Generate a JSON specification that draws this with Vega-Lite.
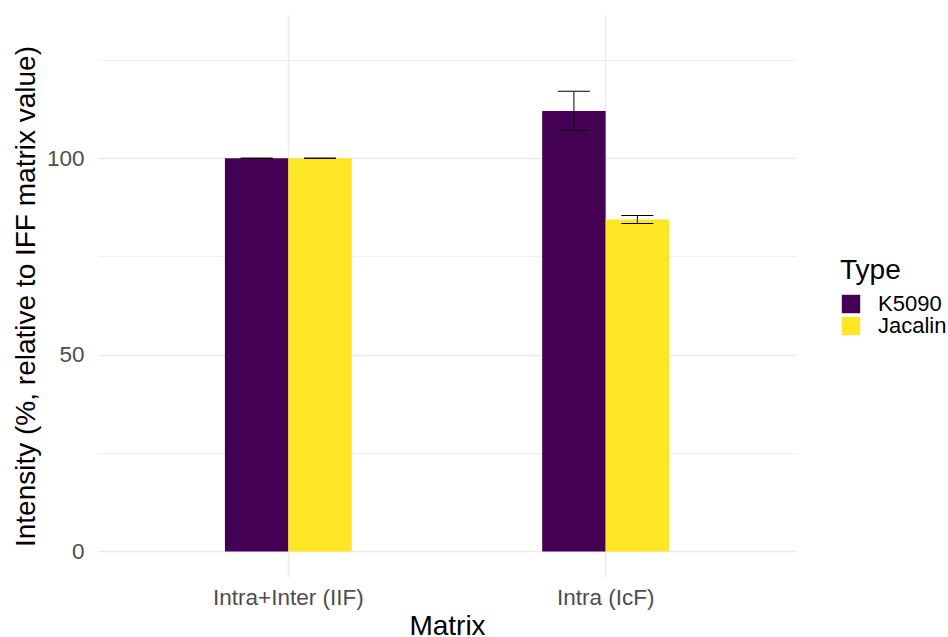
{
  "$schema": "https://vega.github.io/schema/vega-lite/v6.json",
  "width": 698,
  "height": 562,
  "autosize": {"type": "none"},
  "padding": {"left": 98, "top": 15, "right": 152, "bottom": 60},
  "background": "white",
  "config": {
    "font": "Liberation Sans",
    "view": {"stroke": null}
  },
  "data": {
    "values": [
      {"Matrix": "Intra+Inter (IIF)", "Type": "K5090", "value": 100, "lo": 100, "hi": 100},
      {"Matrix": "Intra+Inter (IIF)", "Type": "Jacalin", "value": 100, "lo": 100, "hi": 100},
      {"Matrix": "Intra (IcF)", "Type": "K5090", "value": 112.0, "lo": 107.0, "hi": 117.0},
      {"Matrix": "Intra (IcF)", "Type": "Jacalin", "value": 84.4, "lo": 83.4, "hi": 85.4}
    ]
  },
  "encoding": {
    "x": {
      "field": "Matrix",
      "type": "nominal",
      "sort": ["Intra+Inter (IIF)", "Intra (IcF)"],
      "scale": {"paddingInner": 0.6, "paddingOuter": 0.4},
      "axis": {
        "title": "Matrix",
        "labelAngle": 0,
        "domain": false,
        "ticks": false,
        "tickSize": 0,
        "labelPadding": 9,
        "labelFontSize": 22.5,
        "labelColor": "#4D4D4D",
        "grid": true,
        "gridColor": "#EBEBEB",
        "gridWidth": 1.6,
        "titleFontSize": 28,
        "titleFontWeight": "normal",
        "titleColor": "#000000",
        "titlePadding": 4
      }
    },
    "xOffset": {
      "field": "Type",
      "type": "nominal",
      "sort": ["K5090", "Jacalin"],
      "scale": {"paddingInner": 0, "paddingOuter": 0}
    }
  },
  "layer": [
    {
      "mark": {"type": "bar"},
      "encoding": {
        "y": {
          "field": "value",
          "type": "quantitative",
          "scale": {"domain": [-6.5, 136.4], "nice": false, "zero": false},
          "axis": {
            "title": "Intensity (%, relative to IFF matrix value)",
            "values": [0, 25, 50, 75, 100, 125],
            "labelExpr": "datum.value % 50 === 0 ? datum.label : ''",
            "domain": false,
            "ticks": false,
            "tickSize": 0,
            "labelPadding": 14,
            "labelFontSize": 22.5,
            "labelColor": "#4D4D4D",
            "grid": true,
            "gridColor": "#EBEBEB",
            "gridWidth": {"condition": {"test": "datum.value % 50 === 0", "value": 1.6}, "value": 0.8},
            "titleFontSize": 28,
            "titleFontWeight": "normal",
            "titleColor": "#000000",
            "titlePadding": 6
          }
        },
        "y2": {"datum": 0},
        "color": {
          "field": "Type",
          "type": "nominal",
          "sort": ["K5090", "Jacalin"],
          "scale": {"domain": ["K5090", "Jacalin"], "range": ["#440154", "#FDE725"]},
          "legend": {
            "title": "Type",
            "orient": "none",
            "legendX": 742,
            "legendY": 242,
            "titleFontSize": 28,
            "titleFontWeight": "normal",
            "titleColor": "#000000",
            "titlePadding": 8,
            "labelFontSize": 22,
            "labelColor": "#000000",
            "labelOffset": 16,
            "symbolType": "square",
            "symbolSize": 340,
            "symbolStrokeWidth": 0,
            "symbolOpacity": 1,
            "rowPadding": 0
          }
        }
      }
    },
    {
      "mark": {"type": "rule", "color": "#000000", "strokeWidth": 1},
      "encoding": {
        "y": {"field": "lo", "type": "quantitative"},
        "y2": {"field": "hi"}
      }
    },
    {
      "mark": {"type": "tick", "color": "#000000", "thickness": 1, "size": 32, "opacity": 1},
      "encoding": {
        "y": {"field": "lo", "type": "quantitative"}
      }
    },
    {
      "mark": {"type": "tick", "color": "#000000", "thickness": 1, "size": 32, "opacity": 1},
      "encoding": {
        "y": {"field": "hi", "type": "quantitative"}
      }
    }
  ]
}
